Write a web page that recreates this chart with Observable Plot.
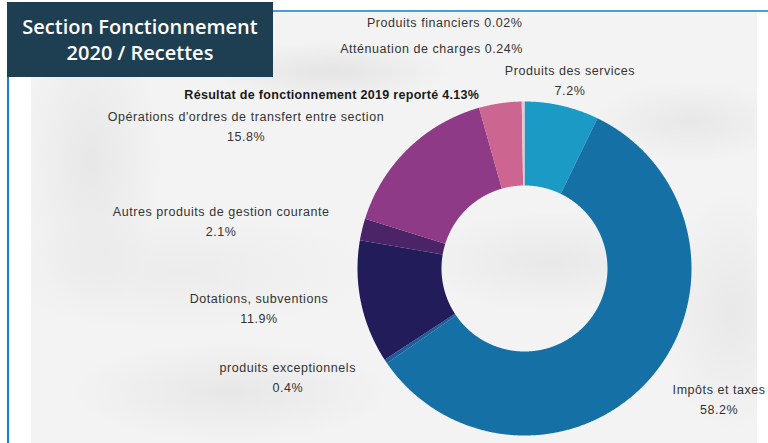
<!DOCTYPE html>
<html><head><meta charset="utf-8">
<script src="https://cdn.jsdelivr.net/npm/d3@7"></script>
<script src="https://cdn.jsdelivr.net/npm/@observablehq/plot@0.6"></script>
<style>
html,body{margin:0;padding:0;background:#fff;}
#wrap{position:relative;width:768px;height:443px;overflow:hidden;background:#fff;}
#marble{position:absolute;left:31px;top:12px;width:726px;height:431px;
 background:
  radial-gradient(ellipse 120px 30px at 300px 60px, rgba(175,175,175,0.22), transparent),
  radial-gradient(ellipse 70px 150px at 60px 150px, rgba(185,185,185,0.2), transparent),
  radial-gradient(ellipse 140px 50px at 520px 250px, rgba(190,190,190,0.2), transparent),
  radial-gradient(ellipse 100px 40px at 660px 110px, rgba(185,185,185,0.2), transparent),
  radial-gradient(ellipse 160px 50px at 200px 380px, rgba(185,185,185,0.2), transparent),
  radial-gradient(ellipse 70px 120px at 700px 300px, rgba(190,190,190,0.2), transparent),
  radial-gradient(ellipse 200px 60px at 150px 260px, rgba(195,195,195,0.15), transparent),
  #f3f3f3;}
#topline{position:absolute;left:273px;top:10px;width:495px;height:2px;background:#4a9fd2;}
#leftline{position:absolute;left:7px;top:77px;width:2px;height:366px;background:#1a7ccc;}
#title{position:absolute;left:7px;top:2px;width:266px;height:75px;background:#1e3e51;color:#fff;
 font-family:"Open Sans",sans-serif;font-weight:600;font-size:20px;line-height:26px;text-align:center;
 display:flex;align-items:center;justify-content:center;}
#chart{position:absolute;left:0;top:0;}
#chart text{letter-spacing:0.55px;}
#chart g[font-weight="bold"] text{letter-spacing:0.3px;}
</style></head>
<body><div id="wrap"><div id="marble"></div><div id="topline"></div><div id="leftline"></div><div id="chart"></div>
<div id="title">Section Fonctionnement<br>2020 / Recettes</div></div>
<script>
// Data
const categories = [
  "Produits des services",
  "Impôts et taxes",
  "produits exceptionnels",
  "Dotations, subventions",
  "Autres produits de gestion courante",
  "Opérations d'ordres de transfert entre section",
  "Résultat de fonctionnement 2019 reporté",
  "Atténuation de charges",
  "Produits financiers"
];
const values = [7.2, 58.2, 0.4, 11.9, 2.1, 15.8, 4.13, 0.24, 0.02];
const valueLabels = ["7.2%", "58.2%", "0.4%", "11.9%", "2.1%", "15.8%", "4.13%", "0.24%", "0.02%"];

// Styles / layout
const colors = ["#1b9ac6", "#1570a6", "#1d5d9b", "#231c5a", "#4b2468", "#8e3a86", "#cc6690", "#e8c6d2", "#f2dde4"];
const cx = 524, cy = 268, R = 167, r = 83;
// label offsets relative to slice mid-angle point on outer edge: [dx, dy, anchor, singleLine, bold]
const labelLayout = [
  [8, -27, "middle", false, false],
  [68, 20, "middle", false, false],
  [-98, 14, "middle", false, false],
  [-102, 4, "middle", false, false],
  [-141, -10, "middle", false, false],
  [-162, -24, "middle", false, false],
  [-21, -11, "end", true, true],
  [0, -55, "end", true, false],
  [-2, -81, "end", true, false]
];

const pie = d3.pie().sort(null).value(d => d)(values);
const pts = [];
pie.forEach((p, i) => {
  const n = Math.max(2, Math.ceil((p.endAngle - p.startAngle) / 0.005));
  for (let k = 0; k <= n; k++) {
    const a = p.startAngle + (p.endAngle - p.startAngle) * k / n;
    pts.push({cat: categories[i], x: cx + R * Math.sin(a), y: cy - R * Math.cos(a)});
  }
  for (let k = n; k >= 0; k--) {
    const a = p.startAngle + (p.endAngle - p.startAngle) * k / n;
    pts.push({cat: categories[i], x: cx + r * Math.sin(a), y: cy - r * Math.cos(a)});
  }
});

const labels = pie.map((p, i) => {
  const a = (p.startAngle + p.endAngle) / 2;
  const L = labelLayout[i];
  return {
    x: cx + R * Math.sin(a) + L[0],
    y: cy - R * Math.cos(a) + L[1],
    text: L[3] ? categories[i] + " " + valueLabels[i] : categories[i] + "\n" + valueLabels[i],
    anchor: L[2], bold: L[4]
  };
});

const groups = d3.groups(labels, d => d.anchor + "|" + d.bold);
const textMarks = groups.map(([key, arr]) => Plot.text(arr, {
  x: "x", y: "y", text: "text",
  textAnchor: arr[0].anchor, fontWeight: arr[0].bold ? "bold" : "normal",
  fill: arr[0].bold ? "#1a1a1a" : "#333", fontSize: 12.5, lineHeight: 1.6,
  fontFamily: "Liberation Sans, Arial, sans-serif"
}));

const chart = Plot.plot({
  width: 768, height: 443,
  margin: 0,
  x: {domain: [0, 768], range: [0, 768], axis: null},
  y: {domain: [0, 443], range: [0, 443], axis: null},
  color: {domain: categories, range: colors},
  style: {background: "transparent", overflow: "visible"},
  marks: [
    Plot.line(pts, {x: "x", y: "y", z: "cat", fill: "cat", stroke: "none", curve: "linear-closed"}),
    ...textMarks
  ]
});
document.getElementById("chart").appendChild(chart);
</script></body></html>
